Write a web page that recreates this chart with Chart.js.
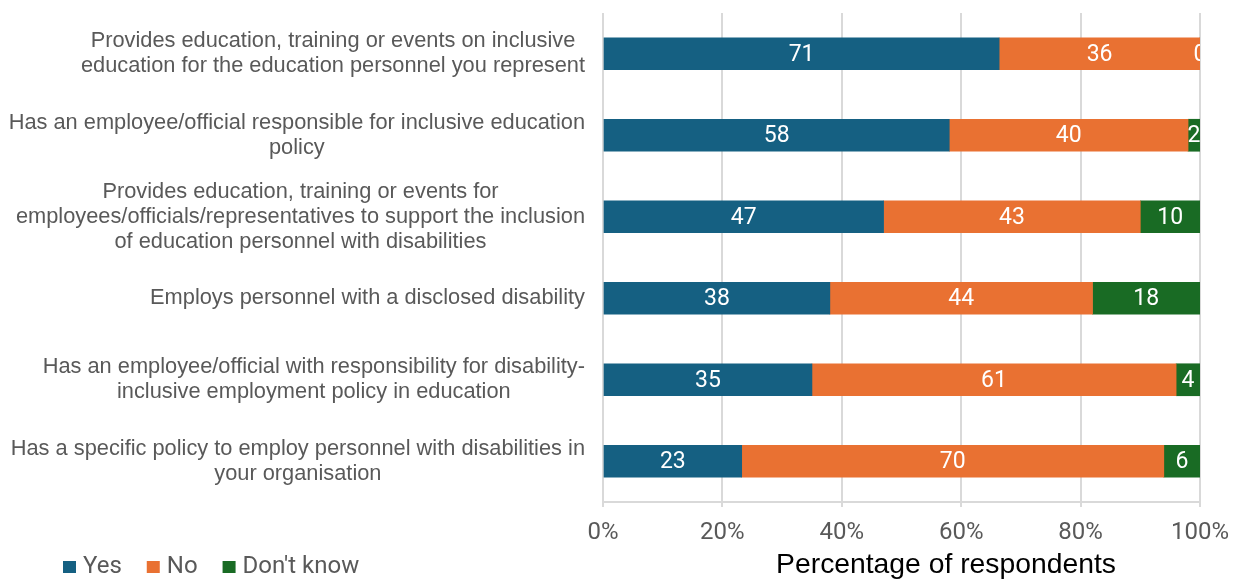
<!DOCTYPE html>
<html>
<head>
<meta charset="utf-8">
<script src="https://cdn.jsdelivr.net/npm/chart.js@4"></script>
<style>
  html, body { margin: 0; padding: 0; background: #fff; }
  canvas { display: block; }
</style>
</head>
<body>
<canvas id="c" width="1239" height="583"></canvas>
<script>
const categories = [
  ["Provides education, training or events on inclusive", "education for the education personnel you represent"],
  ["Has an employee/official responsible for inclusive education", "policy"],
  ["Provides education, training or events for", "employees/officials/representatives to support the inclusion", "of education personnel with disabilities"],
  ["Employs personnel with a disclosed disability"],
  ["Has an employee/official with responsibility for disability-", "inclusive employment policy in education"],
  ["Has a specific policy to employ personnel with disabilities in", "your organisation"]
];
const seriesNames = ["Yes", "No", "Don't know"];
const yesValues = [71, 58, 47, 38, 35, 23];
const noValues = [36, 40, 43, 44, 61, 70];
const dontKnowValues = [0, 2, 10, 18, 4, 6];
const xTicks = [0, 20, 40, 60, 80, 100];
const xTitle = "Percentage of respondents";
const colors = ["#156082", "#E97132", "#196B24"];

const raw = [yesValues, noValues, dontKnowValues];
const totals = categories.map((_, i) => raw.reduce((s, arr) => s + arr[i], 0));
const datasets = raw.map((arr, k) => ({
  label: seriesNames[k],
  data: arr.map((v, i) => v / totals[i] * 100),
  rawValues: arr,
  backgroundColor: colors[k],
  borderWidth: 0,
  barThickness: 32
}));

const labelFont = '21.8px "Liberation Sans", Arial, sans-serif';
const numFont = '23px Roboto, "Liberation Sans", sans-serif';
const legendFont = '24px Roboto, "Liberation Sans", sans-serif';
const titleFont = '28.3px "Liberation Sans", Arial, sans-serif';

const valueLabels = {
  id: 'valueLabels',
  afterDatasetsDraw(chart) {
    const ctx = chart.ctx, a = chart.chartArea;
    ctx.save();
    ctx.beginPath();
    ctx.rect(a.left, a.top, a.right - a.left, a.bottom - a.top);
    ctx.clip();
    ctx.font = numFont;
    ctx.fillStyle = '#ffffff';
    ctx.textAlign = 'center';
    ctx.textBaseline = 'middle';
    chart.data.datasets.forEach((ds, di) => {
      chart.getDatasetMeta(di).data.forEach((el, i) => {
        const x = (el.x + el.base) / 2;
        ctx.fillText(String(ds.rawValues[i]), x, el.y + 1);
      });
    });
    ctx.restore();
  }
};

const catLabels = {
  id: 'catLabels',
  afterDraw(chart) {
    const ctx = chart.ctx;
    const ys = chart.scales.y;
    ctx.save();
    ctx.font = labelFont;
    ctx.fillStyle = '#595959';
    ctx.textAlign = 'center';
    ctx.textBaseline = 'middle';
    const rightEdge = 585;
    categories.forEach((lines, i) => {
      const cy = ys.getPixelForTick(i);
      const w = Math.max(...lines.map(l => ctx.measureText(l).width));
      const cx = rightEdge - w / 2;
      lines.forEach((l, j) => {
        ctx.fillText(l, cx, cy + (j - (lines.length - 1) / 2) * 25);
      });
    });
    ctx.restore();
  }
};

const extras = {
  id: 'extras',
  afterDraw(chart) {
    const ctx = chart.ctx;
    ctx.save();
    ctx.font = legendFont;
    ctx.textBaseline = 'alphabetic';
    ctx.textAlign = 'left';
    let x = 63;
    const base = 573;
    chart.data.datasets.forEach(ds => {
      ctx.fillStyle = ds.backgroundColor;
      ctx.fillRect(x, 561, 13, 12);
      ctx.fillStyle = '#595959';
      ctx.fillText(ds.label, x + 20, base);
      x += 20 + ctx.measureText(ds.label).width + 25;
    });
    ctx.font = titleFont;
    ctx.fillStyle = '#000000';
    ctx.textAlign = 'center';
    ctx.fillText(xTitle, 946, 573);
    ctx.restore();
  }
};

new Chart(document.getElementById('c'), {
  type: 'bar',
  data: { labels: categories.map(c => c.join(' ')), datasets },
  options: {
    indexAxis: 'y',
    responsive: false,
    animation: false,
    layout: { padding: { top: 13, right: 39, left: 0, bottom: 0 } },
    plugins: {
      legend: { display: false },
      tooltip: { enabled: false }
    },
    scales: {
      x: {
        stacked: true,
        min: 0, max: 100,
        afterBuildTicks(scale) { scale.ticks = xTicks.map(v => ({ value: v })); },
        ticks: {
          callback: v => v + '%',
          font: { family: 'Roboto', size: 24 },
          color: '#595959',
          padding: 12
        },
        grid: { color: '#d9d9d9', lineWidth: 2, tickLength: 5, drawTicks: true },
        border: { color: '#d9d9d9', width: 2 },
        title: { display: false },
        afterFit(scale) {
          scale.height = 81;
          scale.paddingLeft = 0;
          scale.paddingRight = 0;
        }
      },
      y: {
        stacked: true,
        ticks: { display: false },
        grid: { display: false },
        border: { display: false },
        afterFit(scale) { scale.width = 603; }
      }
    }
  },
  plugins: [valueLabels, catLabels, extras]
});
</script>
</body>
</html>
